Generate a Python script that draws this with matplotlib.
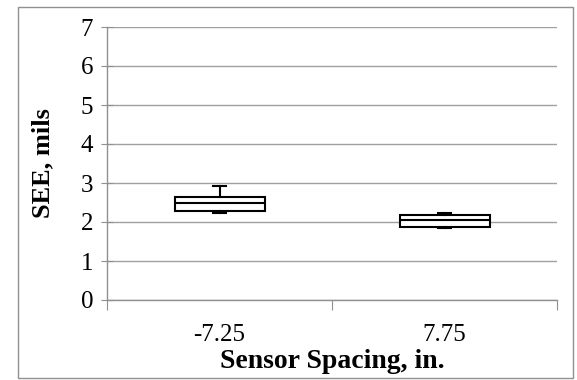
import matplotlib
matplotlib.use("Agg")
import matplotlib.pyplot as plt
from matplotlib.patches import Rectangle

categories = ["-7.25", "7.75"]
whisker_low = [2.22, 1.84]
q1 = [2.29, 1.87]
median = [2.48, 2.05]
q3 = [2.63, 2.17]
whisker_high = [2.92, 2.24]

plt.rcParams['font.family'] = ['Liberation Serif', 'DejaVu Serif']

fig = plt.figure(figsize=(5.77, 3.8), dpi=100)
ax = fig.add_axes([107/577, 1-300/380, 450/577, 273/380])

stats = []
for i, c in enumerate(categories):
    stats.append(dict(label=c, whislo=whisker_low[i], q1=q1[i], med=median[i],
                      q3=q3[i], whishi=whisker_high[i], fliers=[]))

ax.bxp(stats, positions=[1, 2], widths=0.4, patch_artist=True,
       boxprops=dict(facecolor='white', edgecolor='black', linewidth=1.5),
       medianprops=dict(color='black', linewidth=1.5),
       whiskerprops=dict(color='black', linewidth=1.5),
       capprops=dict(color='black', linewidth=1.5),
       capwidths=0.06, showfliers=False, zorder=3)

ax.set_xlim(0.5, 2.5)
ax.set_ylim(0, 7)
ax.set_yticks(range(0, 8))
ax.yaxis.grid(True, color='#a0a0a0', linewidth=1)
ax.set_axisbelow(True)

ax.set_xticks([0.5, 1.5, 2.5])
ax.set_xticklabels([])
ax.set_xticks([1, 2], minor=True)
ax.set_xticklabels(categories, minor=True, fontsize=18)
ax.tick_params(axis='x', which='minor', length=0, pad=17)
ax.tick_params(axis='x', which='major', length=7, color='#909090', direction='out')
ax.tick_params(axis='y', which='major', length=8, color='#909090', direction='inout', labelsize=18, pad=6)

for s in ['top', 'right']:
    ax.spines[s].set_visible(False)
for s in ['left', 'bottom']:
    ax.spines[s].set_color('#909090')
    ax.spines[s].set_linewidth(1)

ax.set_xlabel("Sensor Spacing, in.", fontsize=20, fontweight='bold', va='center')
ax.xaxis.set_label_coords(0.5, -62/273)
ax.set_ylabel("SEE, mils", fontsize=19, fontweight='bold', va='center')
ax.yaxis.set_label_coords(-64/450, 0.5)

fig.patches.append(Rectangle((18/577, 1-378/380), 555/577, 371/380, transform=fig.transFigure,
                             fill=False, edgecolor='#909090', linewidth=1))

fig.savefig("out.png", dpi=100)
